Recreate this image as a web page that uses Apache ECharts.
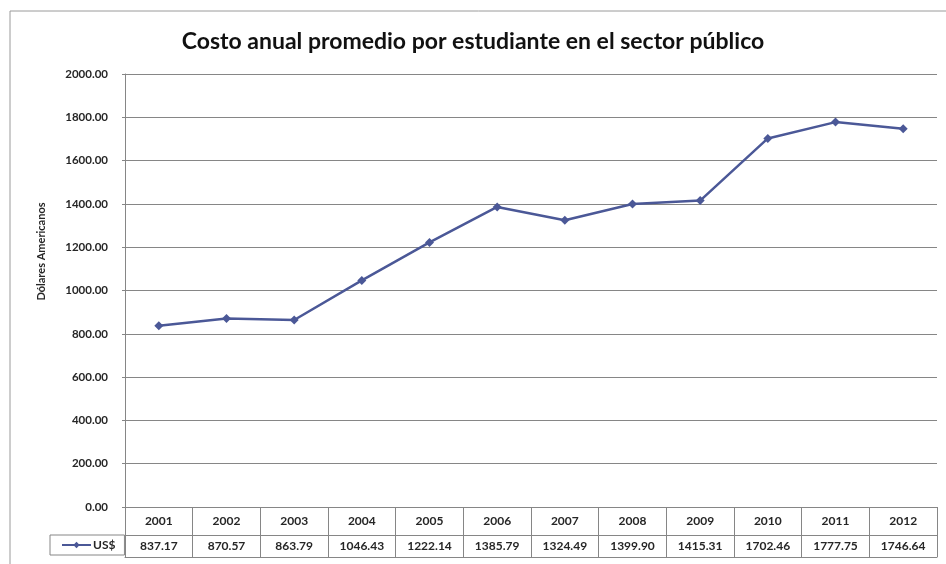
<!DOCTYPE html>
<html>
<head>
<meta charset="utf-8">
<script src="https://cdn.jsdelivr.net/npm/echarts@6/dist/echarts.min.js"></script>
<style>
  html, body { margin: 0; padding: 0; background: #ffffff; }
  #chart { width: 946px; height: 564px; }
</style>
</head>
<body>
<div id="chart"></div>
<script>
// Annual average cost per student in the public sector (US$)
const years = ['2001', '2002', '2003', '2004', '2005', '2006', '2007', '2008', '2009', '2010', '2011', '2012'];
const costUSD = [837.17, 870.57, 863.79, 1046.43, 1222.14, 1385.79, 1324.49, 1399.90, 1415.31, 1702.46, 1777.75, 1746.64];
const seriesName = 'US$';
const titleText = 'Costo anual promedio por estudiante en el sector público';
const yAxisTitle = 'Dólares Americanos';

const FONT = 'Lato, "Open Sans", sans-serif';
const GRID_COLOR = '#868686';
const LINE_COLOR = '#4b5897';
const TEXT_COLOR = '#262626';

const chart = echarts.init(document.getElementById('chart'), null, { renderer: 'canvas' });

// Value row of the data table, taken from the same series values
const valueLabels = costUSD.map(v => v.toFixed(2));

chart.setOption({
  backgroundColor: '#ffffff',
  animation: false,
  title: {
    text: titleText,
    left: 'center',
    top: 25,
    textStyle: { fontFamily: FONT, fontWeight: 'bold', fontSize: 23, color: '#111111' }
  },
  graphic: [{
    type: 'rect',
    shape: { x: 10, y: 11, width: 960, height: 600 },
    style: { fill: null, stroke: '#9a9a9a', lineWidth: 1 },
    silent: true,
    z: -1
  }],
  legend: {
    left: 50,
    top: 535,
    orient: 'horizontal',
    itemWidth: 29,
    itemHeight: 8,
    padding: [4, 9, 4, 11],
    borderColor: GRID_COLOR,
    borderWidth: 1,
    textStyle: { fontFamily: FONT, fontSize: 12, fontWeight: 'bold', color: TEXT_COLOR, padding: [0, 0, 0, -3] },
    data: [seriesName]
  },
  grid: { left: 125, right: 9, top: 74, bottom: 57, containLabel: false },
  xAxis: [
    {
      // Year row of the data table; ticks form the cell separators
      type: 'category',
      data: years,
      position: 'bottom',
      boundaryGap: true,
      axisLine: { show: true, onZero: false, lineStyle: { color: GRID_COLOR, width: 1 } },
      axisTick: { show: true, interval: 0, length: 50, lineStyle: { color: GRID_COLOR, width: 1 } },
      axisLabel: { interval: 0, margin: 8, fontFamily: FONT, fontSize: 12, fontWeight: 'bold', color: TEXT_COLOR },
      splitLine: { show: false }
    },
    {
      // Value row of the data table
      type: 'category',
      data: valueLabels,
      position: 'bottom',
      offset: 28,
      axisLine: { show: true, onZero: false, lineStyle: { color: GRID_COLOR, width: 1 } },
      axisTick: { show: false },
      axisLabel: { interval: 0, margin: 5, fontFamily: FONT, fontSize: 12, fontWeight: 'bold', color: TEXT_COLOR },
      splitLine: { show: false }
    },
    {
      // Bottom edge of the data table
      type: 'category',
      data: years,
      position: 'bottom',
      offset: 50,
      axisLine: { show: true, onZero: false, lineStyle: { color: GRID_COLOR, width: 1 } },
      axisTick: { show: false },
      axisLabel: { show: false },
      splitLine: { show: false }
    }
  ],
  yAxis: {
    type: 'value',
    min: 0,
    max: 2000,
    interval: 200,
    name: yAxisTitle,
    nameLocation: 'middle',
    nameRotate: 90,
    nameGap: 78,
    nameTextStyle: { fontFamily: FONT, fontSize: 11, fontWeight: 'bold', color: TEXT_COLOR, padding: [0, 0, 0, 78] },
    axisLine: { show: true, lineStyle: { color: GRID_COLOR, width: 1 } },
    axisTick: { show: true, length: 3, lineStyle: { color: GRID_COLOR } },
    axisLabel: {
      margin: 17,
      fontFamily: FONT,
      fontSize: 11.5,
      fontWeight: 'bold',
      color: TEXT_COLOR,
      formatter: v => v.toFixed(2)
    },
    splitLine: { show: true, lineStyle: { color: GRID_COLOR, width: 1 } }
  },
  series: [{
    name: seriesName,
    type: 'line',
    xAxisIndex: 0,
    data: costUSD,
    symbol: 'diamond',
    symbolSize: 9,
    showSymbol: true,
    lineStyle: { color: LINE_COLOR, width: 2.5 },
    itemStyle: { color: LINE_COLOR }
  }]
});
</script>
</body>
</html>
